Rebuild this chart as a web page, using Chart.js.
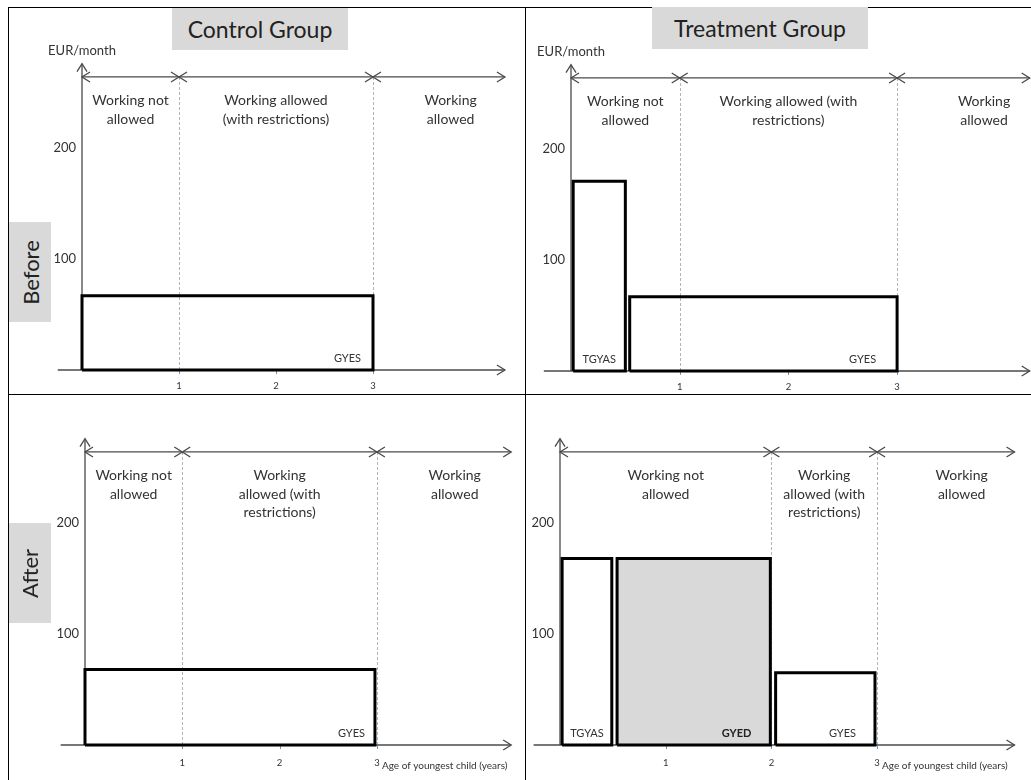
<!DOCTYPE html>
<html>
<head>
<meta charset="utf-8">
<script src="https://cdn.jsdelivr.net/npm/chart.js@4.4.0/dist/chart.umd.min.js"></script>
<style>
  body { margin: 0; background: #fff; font-family: Lato, sans-serif; }
  #page { position: relative; width: 1031px; height: 780px; overflow: hidden; }
  .rule { position: absolute; background: #000; }
  canvas { position: absolute; }
  .title { position: absolute; background: #d9d9d9; color: #222; font-size: 23px;
           text-align: center; line-height: 42px; height: 42px; z-index: 2; }
  .row { position: absolute; background: #d9d9d9; color: #222; font-size: 22px; width: 42px; height: 100px;
         display: flex; align-items: center; justify-content: center; z-index: 2; }
  .row span { transform: rotate(-90deg); white-space: nowrap; }
</style>
</head>
<body>
<div id="page">
  <canvas id="cb" width="516" height="386" style="left:9px;top:8px"></canvas>
  <canvas id="tb" width="504" height="386" style="left:527px;top:8px"></canvas>
  <canvas id="ca" width="516" height="383" style="left:9px;top:396px"></canvas>
  <canvas id="ta" width="504" height="383" style="left:527px;top:396px"></canvas>

  <div class="rule" style="left:8px;top:7px;width:1023px;height:1px"></div>
  <div class="rule" style="left:8px;top:7px;width:1px;height:773px"></div>
  <div class="rule" style="left:525px;top:7px;width:1px;height:773px"></div>
  <div class="rule" style="left:8px;top:394px;width:1023px;height:1px"></div>

  <div class="title" style="left:172px;top:8px;width:176px">Control Group</div>
  <div class="title" style="left:652px;top:7px;width:216px">Treatment Group</div>
  <div class="row" style="left:9px;top:222px"><span>Before</span></div>
  <div class="row" style="left:9px;top:523px"><span>After</span></div>
</div>

<script>
// ticks and axis texts
const ageTicks = [1, 2, 3];
const eurTicks = [100, 200];
const unitLabel = 'EUR/month';
const ageLabel = 'Age of youngest child (years)';

// benefits: name, start age, end age, EUR/month
const cbNames = ['GYES'];
const cbFrom = [0];
const cbTo = [3];
const cbEur = [67];

const tbNames = ['TGYAS', 'GYES'];
const tbFrom = [0.02, 0.54];
const tbTo = [0.5, 3];
const tbEur = [171, 67];

const caNames = ['GYES'];
const caFrom = [0];
const caTo = [2.98];
const caEur = [68];

const taNames = ['TGYAS', 'GYED', 'GYES'];
const taFrom = [0.02, 0.54, 2.04];
const taTo = [0.49, 1.99, 2.98];
const taEur = [168, 168, 65];

// work rule periods (start ages) and their texts
const oldBounds = [0, 1, 3];
const newBounds = [0, 2, 3];
const tlText = [['Working not', 'allowed'], ['Working allowed', '(with restrictions)'], ['Working', 'allowed']];
const trText = [['Working not', 'allowed'], ['Working allowed (with', 'restrictions)'], ['Working', 'allowed']];
const blText = [['Working not', 'allowed'], ['Working', 'allowed (with', 'restrictions)'], ['Working', 'allowed']];
const brText = [['Working not', 'allowed'], ['Working', 'allowed (with', 'restrictions)'], ['Working', 'allowed']];

const newBenefits = ['GYED'];

const rangeLevel = 264;
const axisTop = 276;

const diagram = {
  id: 'diagram',
  beforeDatasetsDraw(chart, args, p) {
    const ctx = chart.ctx;
    const px = v => chart.scales.x.getPixelForValue(v);
    const py = v => chart.scales.y.getPixelForValue(v);
    const seg = (x1, y1, x2, y2) => { ctx.beginPath(); ctx.moveTo(x1, y1); ctx.lineTo(x2, y2); ctx.stroke(); };
    const chev = (x, y, dx, dy) => {
      ctx.beginPath();
      ctx.moveTo(x + dx * 8 - dy * 5, y + dy * 8 - dx * 5);
      ctx.lineTo(x, y);
      ctx.lineTo(x + dx * 8 + dy * 5, y + dy * 8 + dx * 5);
      ctx.stroke();
    };
    ctx.save();

    // period borders
    ctx.strokeStyle = '#b5b5b5';
    ctx.lineWidth = 1;
    ctx.setLineDash([3, 2]);
    p.bounds.slice(1).forEach(b => seg(Math.round(px(b)) + 0.5, py(0), Math.round(px(b)) + 0.5, py(rangeLevel)));
    ctx.setLineDash([]);

    // axes
    ctx.strokeStyle = '#4a4a4a';
    ctx.lineWidth = 1.3;
    seg(px(-0.25), py(0), px(p.axisEnd), py(0));
    chev(px(p.axisEnd), py(0), -1, 0);
    seg(px(0), py(0), px(0), py(axisTop));
    chev(px(0), py(axisTop), 0, 1);

    // period arrows
    const edges = p.bounds.concat([p.axisEnd]);
    for (let i = 0; i < edges.length - 1; i++) {
      const a = px(edges[i]), b = px(edges[i + 1]), y = py(rangeLevel);
      seg(a, y, b, y);
      chev(a, y, 1, 0);
      chev(b, y, -1, 0);
    }

    // period texts
    ctx.fillStyle = '#333';
    ctx.font = '14px Lato';
    ctx.textAlign = 'center';
    ctx.textBaseline = 'middle';
    p.texts.forEach((lines, i) => {
      const cx = i < p.bounds.length - 1 ? px((edges[i] + edges[i + 1]) / 2) : px(p.bounds[i] + 0.8);
      lines.forEach((t, k) => ctx.fillText(t, cx, py(rangeLevel) + 24 + k * 18.5));
    });

    // y ticks
    ctx.font = '13px Lato';
    ctx.textAlign = 'right';
    eurTicks.forEach(v => ctx.fillText(String(v), px(0) - 6, py(v)));

    // x ticks
    ctx.font = '9.5px Lato';
    ctx.textAlign = 'center';
    ageTicks.forEach(v => {
      ctx.fillStyle = '#333';
      ctx.fillText(String(v), px(v), py(0) + p.tickGap);
      ctx.fillStyle = '#5b9bd5';
      ctx.fillRect(Math.round(px(v)), py(0) + 1, 1, 3);
    });

    ctx.fillStyle = '#333';
    if (p.unit) {
      ctx.font = '13px Lato';
      ctx.fillText(unitLabel, px(0), py(axisTop) - 13);
    }
    if (p.age) {
      ctx.font = '10px Lato';
      ctx.textAlign = 'left';
      ctx.fillText(ageLabel, px(3) + 5, py(0) + p.tickGap + 3);
    }
    ctx.restore();
  },
  afterDatasetsDraw(chart, args, p) {
    const ctx = chart.ctx;
    const px = v => chart.scales.x.getPixelForValue(v);
    const py = v => chart.scales.y.getPixelForValue(v);
    ctx.save();
    ctx.textBaseline = 'middle';
    p.names.forEach((n, i) => {
      const isNew = newBenefits.includes(n);
      ctx.font = (isNew ? 'bold ' : '') + '11px Lato';
      ctx.fillStyle = isNew ? '#222' : '#333';
      if (n === 'TGYAS') {
        ctx.textAlign = 'center';
        ctx.fillText(n, px((p.from[i] + p.to[i]) / 2), py(0) - 12);
      } else {
        ctx.textAlign = 'right';
        ctx.fillText(n, px(p.to[i]) - p.inset, py(0) - 12);
      }
    });
    ctx.restore();
  }
};

function drawPanel(id, names, from, to, eur, bounds, texts, g) {
  const canvas = document.getElementById(id);
  const w = canvas.width, h = canvas.height;
  const datasets = [];
  names.forEach((n, i) => {
    datasets.push({
      label: n,
      data: [
        { x: from[i], y: 0 }, { x: from[i], y: eur[i] },
        { x: to[i], y: eur[i] }, { x: to[i], y: 0 }, { x: from[i], y: 0 }
      ],
      borderColor: '#000',
      borderWidth: 3,
      borderJoinStyle: 'miter',
      pointRadius: 0,
      tension: 0,
      fill: false,
      order: 0
    });
    if (newBenefits.includes(n)) {
      datasets.push({
        label: n + ' area',
        data: [
          { x: from[i], y: 0 }, { x: from[i], y: eur[i] },
          { x: to[i], y: eur[i] }, { x: to[i], y: 0 }
        ],
        borderWidth: 0,
        pointRadius: 0,
        tension: 0,
        fill: 'origin',
        backgroundColor: '#d9d9d9',
        order: 1
      });
    }
  });
  new Chart(canvas, {
    type: 'line',
    data: { datasets },
    options: {
      responsive: false,
      animation: false,
      layout: { padding: 0 },
      scales: {
        x: { type: 'linear', display: false, min: -g.ox / g.sx, max: (w - g.ox) / g.sx },
        y: { display: false, min: -(h - g.oy) / g.sy, max: g.oy / g.sy }
      },
      plugins: {
        legend: { display: false },
        tooltip: { enabled: false },
        diagram: {
          names, from, to, bounds, texts,
          axisEnd: g.axisEnd, unit: g.unit, age: g.age, tickGap: g.tickGap, inset: g.inset
        }
      }
    },
    plugins: [diagram]
  });
}

drawPanel('cb', cbNames, cbFrom, cbTo, cbEur, oldBounds, tlText,
  { ox: 73, oy: 362, sx: 97, sy: 1.11, axisEnd: 4.36, unit: true, age: false, tickGap: 16, inset: 12 });
drawPanel('tb', tbNames, tbFrom, tbTo, tbEur, oldBounds, trText,
  { ox: 44, oy: 363, sx: 108.7, sy: 1.11, axisEnd: 4.22, unit: true, age: false, tickGap: 16, inset: 21 });
drawPanel('ca', caNames, caFrom, caTo, caEur, oldBounds, blText,
  { ox: 76, oy: 349, sx: 97.3, sy: 1.11, axisEnd: 4.38, unit: false, age: true, tickGap: 18, inset: 10 });
drawPanel('ta', taNames, taFrom, taTo, taEur, newBounds, brText,
  { ox: 33, oy: 349, sx: 105.7, sy: 1.11, axisEnd: 4.3, unit: false, age: true, tickGap: 18, inset: 19 });
</script>
</body>
</html>
